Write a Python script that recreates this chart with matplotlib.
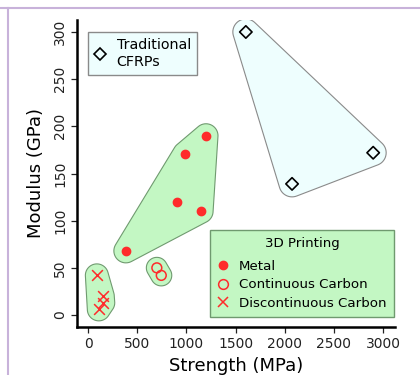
import numpy as np
import matplotlib
matplotlib.use("Agg")
import matplotlib.pyplot as plt
from matplotlib.lines import Line2D
from matplotlib.patches import Polygon

# ---- data ----
metal_x = [385, 905, 1150, 985, 1200]
metal_y = [68, 120, 110, 171, 190]
cont_x = [700, 745]
cont_y = [50, 42]
disc_x = [90, 150, 155, 110]
disc_y = [42, 20, 13, 6]
trad_x = [1605, 2900, 2075]
trad_y = [300, 172, 139]
xticks = [0, 500, 1000, 1500, 2000, 2500, 3000]
yticks = [0, 50, 100, 150, 200, 250, 300]

RED = "#ff2b2b"
GREEN = "#c3f7c3"
CYAN = "#eefefe"

W, H = 420, 375
fig = plt.figure(figsize=(W / 100, H / 100), dpi=100)
ax = fig.add_axes([77 / W, 1 - 327 / H, (395 - 77) / W, (327 - 20) / H])
ax.set_xlim(-112, 3122)
ax.set_ylim(-12.7, 312.7)
for s in ["top", "right"]:
    ax.spines[s].set_visible(False)
for s in ["left", "bottom"]:
    ax.spines[s].set_linewidth(1.8)
ax.set_xticks(xticks)
ax.set_yticks(yticks)
ax.tick_params(axis="both", direction="out", length=4, width=0.9, labelsize=10, colors="#222222")
ax.tick_params(axis="y", pad=3)
for lab in ax.get_yticklabels():
    lab.set_rotation(90)
    lab.set_va("center")
ax.set_xlabel("Strength (MPa)", fontsize=13, labelpad=4)
ax.set_ylabel("Modulus (GPa)", fontsize=13, labelpad=6)


def convex_hull(pts):
    pts = sorted(set(map(tuple, pts)))
    if len(pts) <= 2:
        return pts
    def cross(o, a, b):
        return (a[0] - o[0]) * (b[1] - o[1]) - (a[1] - o[1]) * (b[0] - o[0])
    lower = []
    for p in pts:
        while len(lower) >= 2 and cross(lower[-2], lower[-1], p) <= 0:
            lower.pop()
        lower.append(p)
    upper = []
    for p in reversed(pts):
        while len(upper) >= 2 and cross(upper[-2], upper[-1], p) <= 0:
            upper.pop()
        upper.append(p)
    return lower[:-1] + upper[:-1]


def draw_hull(xs, ys, face, edge, r=11):
    disp = ax.transData.transform(np.column_stack([xs, ys]))
    th = np.linspace(0, 2 * np.pi, 48, endpoint=False)
    ring = []
    for (px, py) in disp:
        for t in th:
            ring.append((round(px + r * np.cos(t), 4), round(py + r * np.sin(t), 4)))
    hull = np.array(convex_hull(ring))
    data = ax.transData.inverted().transform(hull)
    ax.add_patch(Polygon(data, closed=True, facecolor=face, edgecolor=edge, lw=0.8, zorder=1))


fig.canvas.draw()
draw_hull(trad_x, trad_y, CYAN, "#8a8a8a", r=13)
draw_hull(metal_x, metal_y, GREEN, "#6f9a6f", r=12)
draw_hull(cont_x, cont_y, GREEN, "#6f9a6f", r=10.5)
draw_hull(disc_x, disc_y, GREEN, "#6f9a6f", r=11.5)

ax.scatter(trad_x, trad_y, marker="D", s=40, facecolor="none", edgecolor="black", linewidth=1.2, zorder=3)
ax.scatter(metal_x, metal_y, marker="o", s=36, color=RED, zorder=3)
ax.scatter(cont_x, cont_y, marker="o", s=50, facecolor="none", edgecolor=RED, linewidth=1.1, zorder=3)
ax.scatter(disc_x, disc_y, marker="x", s=60, color=RED, linewidth=1.1, zorder=3)

# legend 1: Traditional CFRPs
h1 = [Line2D([], [], marker="D", ls="none", markersize=6.5, markerfacecolor="none",
             markeredgecolor="black", markeredgewidth=1.2)]
leg1 = fig.legend(h1, ["Traditional\nCFRPs"], loc="upper left",
                  bbox_to_anchor=(88 / W, 1 - 32 / H), fontsize=10.3, frameon=True,
                  fancybox=False, handlelength=0.8, handletextpad=0.75, borderpad=0.45,
                  borderaxespad=0)
leg1.get_frame().set_facecolor(CYAN)
leg1.get_frame().set_edgecolor("#8a8a8a")
leg1.get_frame().set_linewidth(1.0)
leg1.get_frame().set_alpha(1)

# legend 2: 3D Printing
h2 = [Line2D([], [], marker="o", ls="none", markersize=6, color=RED),
      Line2D([], [], marker="o", ls="none", markersize=7, markerfacecolor="none",
             markeredgecolor=RED, markeredgewidth=1.1),
      Line2D([], [], marker="x", ls="none", markersize=7, color=RED, markeredgewidth=1.1)]
leg2 = fig.legend(h2, ["Metal", "Continuous Carbon", "Discontinuous Carbon"],
                  title="3D Printing", loc="lower right",
                  bbox_to_anchor=(394 / W, 1 - 317 / H), fontsize=9.6, title_fontsize=9.6,
                  frameon=True, fancybox=False, handlelength=0.8, handletextpad=0.8,
                  borderpad=0.55, labelspacing=0.4, borderaxespad=0)
leg2.get_frame().set_facecolor(GREEN)
leg2.get_frame().set_edgecolor("#6f9a6f")
leg2.get_frame().set_linewidth(1.0)
leg2.get_frame().set_alpha(1)
leg2._legend_box.sep = 7

# figure frame lines (top and left)
fig.add_artist(Line2D([0, 1], [1 - 7.5 / H, 1 - 7.5 / H], transform=fig.transFigure,
                      color="#c8b2da", lw=1.5))
fig.add_artist(Line2D([8 / W, 8 / W], [0, 1 - 7.5 / H], transform=fig.transFigure,
                      color="#c8b2da", lw=1.5))

fig.savefig("out.png", dpi=100)
